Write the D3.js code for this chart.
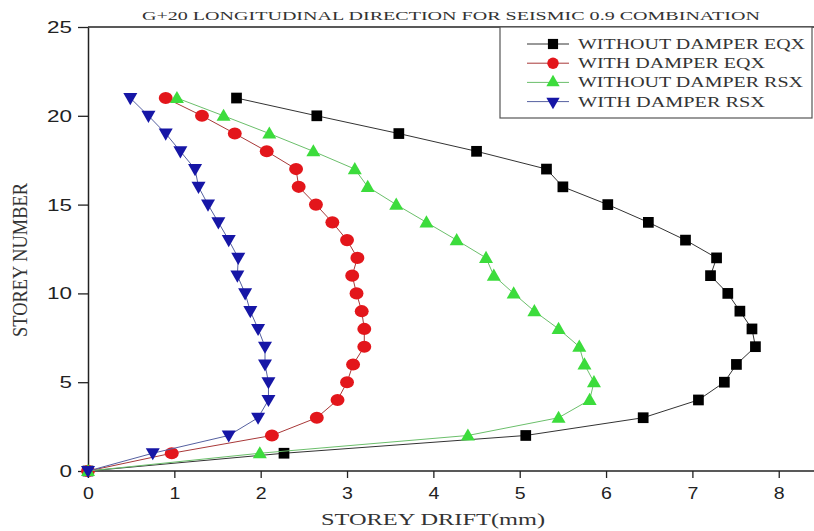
<!DOCTYPE html>
<html>
<head>
<meta charset="utf-8">
<script src="https://cdn.jsdelivr.net/npm/d3@7"></script>
<style>
  body { margin: 0; background: #fff; }
  svg { display: block; }
</style>
</head>
<body>
<div class="chart"></div>
<script>
var storeys = d3.range(0, 22);
// storey drift (mm), storey 0 .. 21
var withoutDamperEQX = [0, 2.27, 5.07, 6.43, 7.07, 7.37, 7.51, 7.73, 7.69, 7.55, 7.41, 7.21, 7.28, 6.92, 6.49, 6.02, 5.50, 5.31, 4.50, 3.60, 2.65, 1.72];
var withDamperEQX    = [0, 0.97, 2.13, 2.65, 2.89, 3.00, 3.07, 3.20, 3.20, 3.17, 3.11, 3.06, 3.12, 3.00, 2.83, 2.64, 2.44, 2.41, 2.07, 1.70, 1.32, 0.90];
var withoutDamperRSX = [0, 1.99, 4.40, 5.45, 5.81, 5.86, 5.75, 5.69, 5.45, 5.17, 4.93, 4.70, 4.61, 4.27, 3.92, 3.57, 3.24, 3.09, 2.61, 2.10, 1.57, 1.03];
var withDamperRSX    = [0, 0.75, 1.63, 1.97, 2.09, 2.09, 2.05, 2.05, 1.97, 1.88, 1.82, 1.73, 1.74, 1.63, 1.51, 1.39, 1.28, 1.24, 1.07, 0.90, 0.70, 0.49];

var seriesNames = ["WITHOUT DAMPER EQX", "WITH DAMPER EQX", "WITHOUT DAMPER RSX", "WITH DAMPER RSX"];
var xTicks = [0, 1, 2, 3, 4, 5, 6, 7, 8];
var yTicks = [0, 5, 10, 15, 20, 25];

var width = 814, height = 531;
var serif = "Liberation Serif, Times New Roman, serif";

var series = [
  { name: seriesNames[0], values: withoutDamperEQX, fill: "#000000", line: "#333333", shape: d3.symbolSquare, size: 115, rot: 0 },
  { name: seriesNames[1], values: withDamperEQX, fill: "#e3161b", line: "#a83838", shape: d3.symbolCircle, size: 115, rot: 0 },
  { name: seriesNames[2], values: withoutDamperRSX, fill: "#3cdc3c", line: "#6bbf6b", shape: d3.symbolTriangle, size: 85, rot: 0 },
  { name: seriesNames[3], values: withDamperRSX, fill: "#1616a6", line: "#5560a0", shape: d3.symbolTriangle, size: 85, rot: 180 }
];

var svg = d3.select(".chart").append("svg")
    .attr("width", width)
    .attr("height", height);

var x = d3.scaleLinear().domain([0, 8.42]).range([88, 815]);
var y = d3.scaleLinear().domain([0, 25]).range([471, 27]);

// stretch text horizontally to a given width (the source picture is wide)
function stretch(sel, w) {
  sel.attr("textLength", w).attr("lengthAdjust", "spacingAndGlyphs");
}

// frame top
svg.append("line")
    .attr("x1", x(0)).attr("x2", width)
    .attr("y1", y(25)).attr("y2", y(25))
    .attr("stroke", "#222").attr("stroke-width", 1.5);

var xAxis = svg.append("g")
    .attr("transform", "translate(0," + y(0) + ")")
    .call(d3.axisBottom(x).tickValues(xTicks).tickSize(7).tickPadding(9).tickSizeOuter(0));
xAxis.select(".domain").attr("stroke", "#222").attr("stroke-width", 1.5).attr("d", "M" + x(0) + ",0H" + width);

var yAxis = svg.append("g")
    .attr("transform", "translate(" + x(0) + ",0)")
    .call(d3.axisLeft(y).tickValues(yTicks).tickSize(10).tickPadding(6).tickSizeOuter(0));
yAxis.select(".domain").attr("stroke", "#222").attr("stroke-width", 1.5);

svg.selectAll(".tick line").attr("stroke", "#222").attr("stroke-width", 1.3);
svg.selectAll(".tick text")
    .attr("fill", "#222")
    .style("font-family", "Liberation Sans, Arial, sans-serif")
    .style("font-size", "17px");
xAxis.selectAll(".tick text").attr("transform", "scale(1.15,1)").attr("x", function () {
  return 0;
});
yAxis.selectAll(".tick text").each(function () {
  var t = d3.select(this);
  stretch(t, t.text().length * 12.5);
});

// title and axis labels
svg.append("text")
    .attr("x", 451).attr("y", 20)
    .attr("text-anchor", "middle")
    .style("font-family", serif)
    .style("font-size", "12.5px")
    .attr("fill", "#333")
    .text("G+20 LONGITUDINAL DIRECTION FOR SEISMIC 0.9 COMBINATION")
    .call(stretch, 618);

svg.append("text")
    .attr("x", 433).attr("y", 525)
    .attr("text-anchor", "middle")
    .style("font-family", serif)
    .style("font-size", "17px")
    .attr("fill", "#333")
    .text("STOREY DRIFT(mm)")
    .call(stretch, 224);

svg.append("text")
    .attr("transform", "translate(27,260) rotate(-90) scale(1,1.35)")
    .attr("text-anchor", "middle")
    .style("font-family", serif)
    .style("font-size", "16px")
    .attr("fill", "#333")
    .text("STOREY NUMBER")
    .call(stretch, 154);

var line = d3.line()
    .x(function (d) { return x(d.v); })
    .y(function (d) { return y(d.s); });

series.forEach(function (s) {
  var pts = s.values.map(function (v, i) { return { v: v, s: storeys[i] }; });
  svg.append("path")
      .datum(pts)
      .attr("d", line)
      .attr("fill", "none")
      .attr("stroke", s.line)
      .attr("stroke-width", 1);
  svg.selectAll(null)
      .data(pts)
      .enter()
      .append("path")
      .attr("d", d3.symbol().type(s.shape).size(s.size))
      .attr("transform", function (d) {
        var dy = s.shape === d3.symbolTriangle ? (s.rot ? -1 : 1) : 0;
        var sx = s.shape === d3.symbolCircle ? 1.15 : 1;
        return "translate(" + x(d.v) + "," + (y(d.s) + dy) + ") rotate(" + s.rot + ") scale(" + sx + ",1)";
      })
      .attr("fill", s.fill);
});

// legend
var lg = svg.append("g");
lg.append("rect")
    .attr("x", 500).attr("y", 27)
    .attr("width", 312).attr("height", 91)
    .attr("fill", "#fff")
    .attr("stroke", "#555").attr("stroke-width", 1.2);

var legendWidths = [227, 187, 225, 187];
series.forEach(function (s, i) {
  var ly = 44 + i * 19.2;
  lg.append("line")
      .attr("x1", 527).attr("x2", 569)
      .attr("y1", ly).attr("y2", ly)
      .attr("stroke", s.line).attr("stroke-width", 1);
  lg.append("path")
      .attr("d", d3.symbol().type(s.shape).size(s.size * 0.9))
      .attr("transform", "translate(553," + ly + ") rotate(" + s.rot + ")")
      .attr("fill", s.fill);
  lg.append("text")
      .attr("x", 578).attr("y", ly + 5)
      .style("font-family", serif)
      .style("font-size", "14px")
      .attr("fill", "#333")
      .text(s.name)
      .call(stretch, legendWidths[i]);
});
</script>
</body>
</html>
